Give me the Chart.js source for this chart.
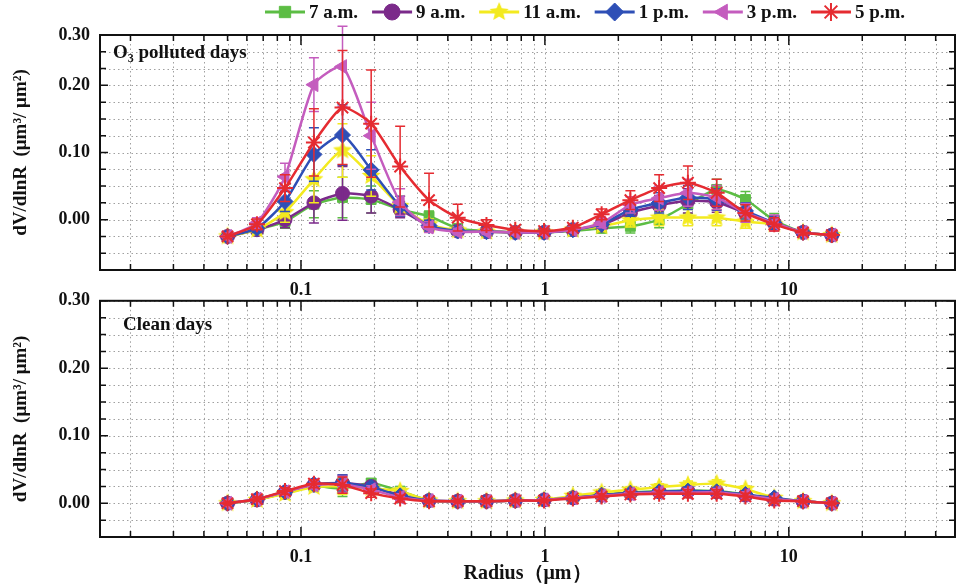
<!DOCTYPE html>
<html>
<head>
<meta charset="utf-8">
<script src="https://cdn.jsdelivr.net/npm/chart.js@4.4.1/dist/chart.umd.min.js"></script>
<style>
  body { margin: 0; background: #fff; width: 956px; height: 588px; position: relative; overflow: hidden; }
  canvas { position: absolute; left: 0; }
  #topChart { top: 0; }
  #bottomChart { top: 280px; }
</style>
</head>
<body>
<canvas id="topChart" width="956" height="300"></canvas>
<canvas id="bottomChart" width="956" height="308"></canvas>
<script>
// radius bins (um)
const radius = [0.050, 0.066, 0.086, 0.113, 0.148, 0.194, 0.255, 0.335, 0.439, 0.576, 0.756,
                0.992, 1.302, 1.708, 2.241, 2.940, 3.857, 5.061, 6.641, 8.713, 11.432, 15.0];
const seriesNames = ["7 a.m.", "9 a.m.", "11 a.m.", "1 p.m.", "3 p.m.", "5 p.m."];
const seriesColors = ["#5cbd44", "#7b2a8a", "#f3ea1f", "#2e4fb6", "#c45cbe", "#e52b31"];

// O3 polluted days
const polluted7am  = [0.000, 0.010, 0.022, 0.048, 0.058, 0.055, 0.040, 0.030, 0.012, 0.008, 0.006, 0.006, 0.008, 0.012, 0.015, 0.025, 0.048, 0.070, 0.055, 0.024, 0.006, 0.002];
const polluted9am  = [0.000, 0.010, 0.025, 0.050, 0.064, 0.060, 0.040, 0.016, 0.008, 0.007, 0.006, 0.006, 0.010, 0.017, 0.035, 0.046, 0.053, 0.051, 0.035, 0.020, 0.006, 0.002];
const polluted11am = [0.000, 0.010, 0.036, 0.085, 0.128, 0.090, 0.045, 0.018, 0.009, 0.007, 0.006, 0.006, 0.010, 0.015, 0.024, 0.028, 0.028, 0.028, 0.022, 0.018, 0.006, 0.002];
const polluted1pm  = [0.000, 0.012, 0.052, 0.122, 0.151, 0.099, 0.045, 0.016, 0.008, 0.007, 0.006, 0.006, 0.010, 0.018, 0.040, 0.050, 0.058, 0.055, 0.038, 0.020, 0.006, 0.002];
const polluted3pm  = [0.000, 0.020, 0.089, 0.226, 0.253, 0.150, 0.051, 0.014, 0.007, 0.007, 0.006, 0.006, 0.010, 0.020, 0.047, 0.057, 0.065, 0.058, 0.035, 0.020, 0.006, 0.002];
const polluted5pm  = [0.000, 0.018, 0.072, 0.140, 0.192, 0.168, 0.104, 0.054, 0.028, 0.017, 0.010, 0.008, 0.013, 0.033, 0.054, 0.072, 0.080, 0.065, 0.035, 0.018, 0.006, 0.002];

// error bars, polluted days
const pollutedErr7am  = [0.003, 0.005, 0.010, 0.020, 0.030, 0.020, 0.010, 0.008, 0.005, 0.004, 0.003, 0.003, 0.004, 0.006, 0.010, 0.012, 0.014, 0.015, 0.012, 0.010, 0.004, 0.002];
const pollutedErr9am  = [0.003, 0.005, 0.012, 0.030, 0.040, 0.025, 0.012, 0.008, 0.006, 0.004, 0.003, 0.003, 0.004, 0.006, 0.010, 0.015, 0.018, 0.015, 0.012, 0.010, 0.004, 0.002];
const pollutedErr11am = [0.003, 0.005, 0.015, 0.035, 0.040, 0.030, 0.015, 0.008, 0.005, 0.004, 0.003, 0.003, 0.004, 0.006, 0.010, 0.012, 0.012, 0.012, 0.010, 0.008, 0.004, 0.002];
const pollutedErr1pm  = [0.003, 0.006, 0.015, 0.040, 0.045, 0.030, 0.015, 0.008, 0.005, 0.004, 0.003, 0.003, 0.004, 0.006, 0.010, 0.015, 0.018, 0.016, 0.012, 0.010, 0.004, 0.002];
const pollutedErr3pm  = [0.003, 0.008, 0.020, 0.040, 0.060, 0.050, 0.020, 0.008, 0.005, 0.004, 0.003, 0.003, 0.004, 0.007, 0.012, 0.018, 0.020, 0.018, 0.014, 0.012, 0.004, 0.002];
const pollutedErr5pm  = [0.003, 0.008, 0.020, 0.050, 0.085, 0.080, 0.060, 0.040, 0.020, 0.008, 0.004, 0.003, 0.004, 0.008, 0.014, 0.020, 0.025, 0.020, 0.012, 0.010, 0.004, 0.002];

// clean days
const clean7am  = [0.000, 0.005, 0.015, 0.025, 0.022, 0.030, 0.018, 0.004, 0.003, 0.003, 0.004, 0.005, 0.009, 0.013, 0.016, 0.018, 0.019, 0.018, 0.013, 0.006, 0.003, 0.000];
const clean9am  = [0.000, 0.005, 0.016, 0.027, 0.030, 0.025, 0.012, 0.004, 0.003, 0.003, 0.004, 0.005, 0.008, 0.012, 0.015, 0.017, 0.018, 0.017, 0.012, 0.006, 0.003, 0.000];
const clean11am = [0.000, 0.005, 0.014, 0.024, 0.025, 0.022, 0.018, 0.004, 0.003, 0.003, 0.004, 0.005, 0.011, 0.016, 0.020, 0.024, 0.027, 0.029, 0.021, 0.008, 0.003, 0.000];
const clean1pm  = [0.000, 0.006, 0.017, 0.028, 0.030, 0.024, 0.011, 0.004, 0.003, 0.003, 0.004, 0.005, 0.008, 0.012, 0.015, 0.017, 0.018, 0.017, 0.013, 0.008, 0.003, 0.000];
const clean3pm  = [0.000, 0.006, 0.017, 0.027, 0.028, 0.020, 0.009, 0.004, 0.003, 0.003, 0.004, 0.005, 0.008, 0.011, 0.014, 0.016, 0.016, 0.016, 0.012, 0.006, 0.003, 0.000];
const clean5pm  = [0.000, 0.006, 0.018, 0.029, 0.027, 0.015, 0.007, 0.003, 0.003, 0.003, 0.004, 0.004, 0.007, 0.010, 0.013, 0.014, 0.014, 0.014, 0.010, 0.004, 0.003, 0.000];
const cleanErr  = [0.002, 0.003, 0.005, 0.006, 0.012, 0.006, 0.005, 0.002, 0.002, 0.002, 0.002, 0.002, 0.003, 0.004, 0.004, 0.005, 0.006, 0.006, 0.005, 0.004, 0.002, 0.002];

// ticks
const xTickValues = [0.02, 0.03, 0.04, 0.05, 0.06, 0.07, 0.08, 0.09, 0.1, 0.2, 0.3, 0.4, 0.5, 0.6, 0.7, 0.8, 0.9,
                     1, 2, 3, 4, 5, 6, 7, 8, 9, 10, 20, 30, 40];
const xLabelValues = [0.1, 1, 10];
const xLabels = ["0.1", "1", "10"];
const yTickValues = [-0.05, -0.025, 0, 0.025, 0.05, 0.075, 0.1, 0.125, 0.15, 0.175, 0.2, 0.225, 0.25, 0.275, 0.3];
const yLabels = ["0.00", "0.10", "0.20", "0.30"];
const topYLabelAt = [0.025, 0.125, 0.225, 0.3];  // the upper panel's labels sit one minor step high
const bottomYLabelAt = [0, 0.1, 0.2, 0.3];

const SERIF = "'Liberation Serif', 'Times New Roman', serif";
const tickFont = { family: SERIF, weight: "bold", size: 18 };

function starImage(color, r) {
  const c = document.createElement("canvas");
  c.width = c.height = 2 * r + 2;
  const g = c.getContext("2d");
  g.beginPath();
  for (let k = 0; k < 10; k++) {
    const rad = k % 2 ? r * 0.45 : r;
    const a = -Math.PI / 2 + k * Math.PI / 5;
    g.lineTo(r + 1 + rad * Math.cos(a), r + 1 + rad * Math.sin(a));
  }
  g.closePath();
  g.fillStyle = color;
  g.fill();
  return c;
}

const markers = [
  { pointStyle: "rect", radius: 7, rotation: 0 },
  { pointStyle: "circle", radius: 7, rotation: 0 },
  { pointStyle: starImage(seriesColors[2], 10), radius: 10, rotation: 0 },
  { pointStyle: "rectRot", radius: 8, rotation: 0 },
  { pointStyle: "triangle", radius: 8, rotation: -90 },
  { pointStyle: "star", radius: 8, rotation: 0 },
];

function findLabel(v, at) {
  for (let i = 0; i < at.length; i++) {
    if (Math.abs(v - at[i]) < 1e-6) return i;
  }
  return -1;
}

function makeDatasets(series, errors) {
  return series.map((vals, i) => ({
    label: seriesNames[i],
    data: radius.map((r, j) => ({ x: r, y: vals[j] })),
    errors: errors[i],
    borderColor: seriesColors[i],
    backgroundColor: seriesColors[i],
    pointStyle: markers[i].pointStyle,
    pointRadius: markers[i].radius,
    pointRotation: markers[i].rotation,
    pointBorderWidth: i === 5 ? 2 : 1,
    borderWidth: 2.5,
    tension: 0.2,
    order: 5 - i,
  }));
}

// error bars, drawn right after each line so the stacking matches
const errorBars = {
  id: "errorBars",
  afterDatasetDraw(chart, args) {
    const ds = chart.data.datasets[args.index];
    if (!ds.errors) return;
    const y = chart.scales.y;
    const ctx = chart.ctx;
    ctx.save();
    ctx.strokeStyle = ds.borderColor;
    ctx.lineWidth = 1.5;
    args.meta.data.forEach((pt, j) => {
      const e = ds.errors[j];
      const v = ds.data[j].y;
      const y1 = y.getPixelForValue(v + e);
      const y2 = y.getPixelForValue(v - e);
      ctx.beginPath();
      ctx.moveTo(pt.x, y1); ctx.lineTo(pt.x, y2);
      ctx.moveTo(pt.x - 5, y1); ctx.lineTo(pt.x + 5, y1);
      ctx.moveTo(pt.x - 5, y2); ctx.lineTo(pt.x + 5, y2);
      ctx.stroke();
    });
    ctx.restore();
  }
};

// dotted grid, box frame and inward ticks on all four sides
const frame = {
  id: "frame",
  beforeDatasetsDraw(chart) {
    const { ctx, chartArea: a, scales: { x, y } } = chart;
    ctx.save();
    ctx.strokeStyle = "#a0a0a0";
    ctx.lineWidth = 1;
    ctx.setLineDash([1.5, 3]);
    xTickValues.forEach(v => {
      const px = Math.round(x.getPixelForValue(v)) + 0.5;
      ctx.beginPath(); ctx.moveTo(px, a.top); ctx.lineTo(px, a.bottom); ctx.stroke();
    });
    yTickValues.forEach(v => {
      const py = Math.round(y.getPixelForValue(v)) + 0.5;
      ctx.beginPath(); ctx.moveTo(a.left, py); ctx.lineTo(a.right, py); ctx.stroke();
    });
    ctx.restore();
  },
  afterDraw(chart) {
    const { ctx, chartArea: a, scales: { x, y } } = chart;
    const labelAt = chart.options.plugins.frame.labelAt;
    ctx.save();
    ctx.strokeStyle = "#111";
    ctx.lineWidth = 2;
    ctx.strokeRect(a.left, a.top, a.right - a.left, a.bottom - a.top);
    ctx.lineWidth = 1.5;
    xTickValues.forEach(v => {
      const px = x.getPixelForValue(v);
      const len = findLabel(v, xLabelValues) >= 0 ? 10 : 6;
      ctx.beginPath();
      ctx.moveTo(px, a.bottom); ctx.lineTo(px, a.bottom - len);
      ctx.moveTo(px, a.top); ctx.lineTo(px, a.top + len);
      ctx.stroke();
    });
    yTickValues.forEach(v => {
      const py = y.getPixelForValue(v);
      const len = findLabel(v, labelAt) >= 0 ? 8 : 6;
      ctx.beginPath();
      ctx.moveTo(a.left, py); ctx.lineTo(a.left + len, py);
      ctx.moveTo(a.right, py); ctx.lineTo(a.right - len, py);
      ctx.stroke();
    });
    ctx.restore();
  }
};

// panel caption ("O3 polluted days", "Clean days"), with an optional subscript
const caption = {
  id: "caption",
  afterDraw(chart) {
    const o = chart.options.plugins.caption;
    const ctx = chart.ctx;
    ctx.save();
    ctx.fillStyle = "#111";
    ctx.textBaseline = "alphabetic";
    let cx = o.x;
    o.parts.forEach(p => {
      ctx.font = `bold ${p.sub ? 12 : 19}px ${SERIF}`;
      ctx.fillText(p.text, cx, o.y + (p.sub ? 4 : 0));
      cx += ctx.measureText(p.text).width;
    });
    ctx.restore();
  }
};

// legend across the top: short line with the marker in its middle, then the label
const lineLegend = {
  id: "lineLegend",
  afterDraw(chart) {
    const ctx = chart.ctx;
    const o = chart.options.plugins.lineLegend;
    if (!o.show) return;
    ctx.save();
    ctx.font = `bold 19px ${SERIF}`;
    ctx.textBaseline = "middle";
    let lx = o.x;
    chart.data.datasets.forEach((ds, i) => {
      ctx.strokeStyle = ds.borderColor;
      ctx.fillStyle = ds.backgroundColor;
      ctx.lineWidth = 3;
      ctx.beginPath(); ctx.moveTo(lx, o.y); ctx.lineTo(lx + 40, o.y); ctx.stroke();
      ctx.lineWidth = ds.pointBorderWidth;
      Chart.helpers.drawPoint(ctx, {
        pointStyle: ds.pointStyle, radius: ds.pointRadius + 1, rotation: ds.pointRotation, borderWidth: ds.pointBorderWidth
      }, lx + 20, o.y);
      ctx.fillStyle = "#111";
      ctx.fillText(ds.label, lx + 44, o.y + 1);
      lx += 44 + ctx.measureText(ds.label).width + o.gap;
    });
    ctx.restore();
  }
};

function makeChart(id, datasets, opts) {
  return new Chart(document.getElementById(id), {
    type: "line",
    data: { datasets },
    plugins: [frame, errorBars, caption, lineLegend],
    options: {
      responsive: false,
      animation: false,
      events: [],
      layout: { autoPadding: false, padding: { top: opts.padTop, right: 1, left: 0, bottom: 0 } },
      plugins: {
        legend: { display: false },
        tooltip: { enabled: false },
        frame: { labelAt: opts.yLabelAt },
        caption: opts.caption,
        lineLegend: { show: opts.legend, x: 265, y: 12, gap: 14 },
      },
      scales: {
        x: {
          type: "logarithmic",
          min: 0.015,
          max: 48,
          afterBuildTicks: s => { s.ticks = xTickValues.map(v => ({ value: v })); },
          afterFit: s => { s.height = opts.xHeight; s.paddingLeft = 0; s.paddingRight = 0; },
          grid: { display: false, drawTicks: false },
          border: { display: false },
          ticks: {
            autoSkip: false, maxRotation: 0, padding: 10, color: "#111", font: tickFont,
            callback: v => { const k = findLabel(v, xLabelValues); return k >= 0 ? xLabels[k] : ""; }
          },
          title: opts.xTitle
        },
        y: {
          min: -0.05,
          max: 0.30,
          afterBuildTicks: s => { s.ticks = yTickValues.map(v => ({ value: v })); },
          afterFit: s => { s.width = 100; },
          grid: { display: false, drawTicks: false },
          border: { display: false },
          ticks: {
            autoSkip: false, padding: 10, color: "#111", font: tickFont,
            callback: v => { const k = findLabel(v, opts.yLabelAt); return k >= 0 ? yLabels[k] : ""; }
          },
          title: {
            display: true,
            text: "dV/dlnR  (\u03bcm\u00b3/ \u03bcm\u00b2)",
            color: "#111",
            font: { family: SERIF, weight: "bold", size: 19 },
            padding: { top: 10, bottom: 0 }
          }
        }
      }
    }
  });
}

makeChart("topChart",
  makeDatasets([polluted7am, polluted9am, polluted11am, polluted1pm, polluted3pm, polluted5pm],
               [pollutedErr7am, pollutedErr9am, pollutedErr11am, pollutedErr1pm, pollutedErr3pm, pollutedErr5pm]),
  {
    padTop: 35, xHeight: 30, yLabelAt: topYLabelAt, legend: true,
    caption: { x: 113, y: 58, parts: [{ text: "O" }, { text: "3", sub: true }, { text: " polluted days" }] },
    xTitle: { display: false }
  });

makeChart("bottomChart",
  makeDatasets([clean7am, clean9am, clean11am, clean1pm, clean3pm, clean5pm],
               [cleanErr, cleanErr, cleanErr, cleanErr, cleanErr, cleanErr]),
  {
    padTop: 18, xHeight: 51, yLabelAt: bottomYLabelAt, legend: false,
    caption: { x: 123, y: 50, parts: [{ text: "Clean days" }] },
    xTitle: {
      display: true, text: "Radius\uff08\u03bcm\uff09", color: "#111",
      font: { family: SERIF, weight: "bold", size: 20 },
      padding: { top: 0, bottom: 2 }
    }
  });
</script>
</body>
</html>
